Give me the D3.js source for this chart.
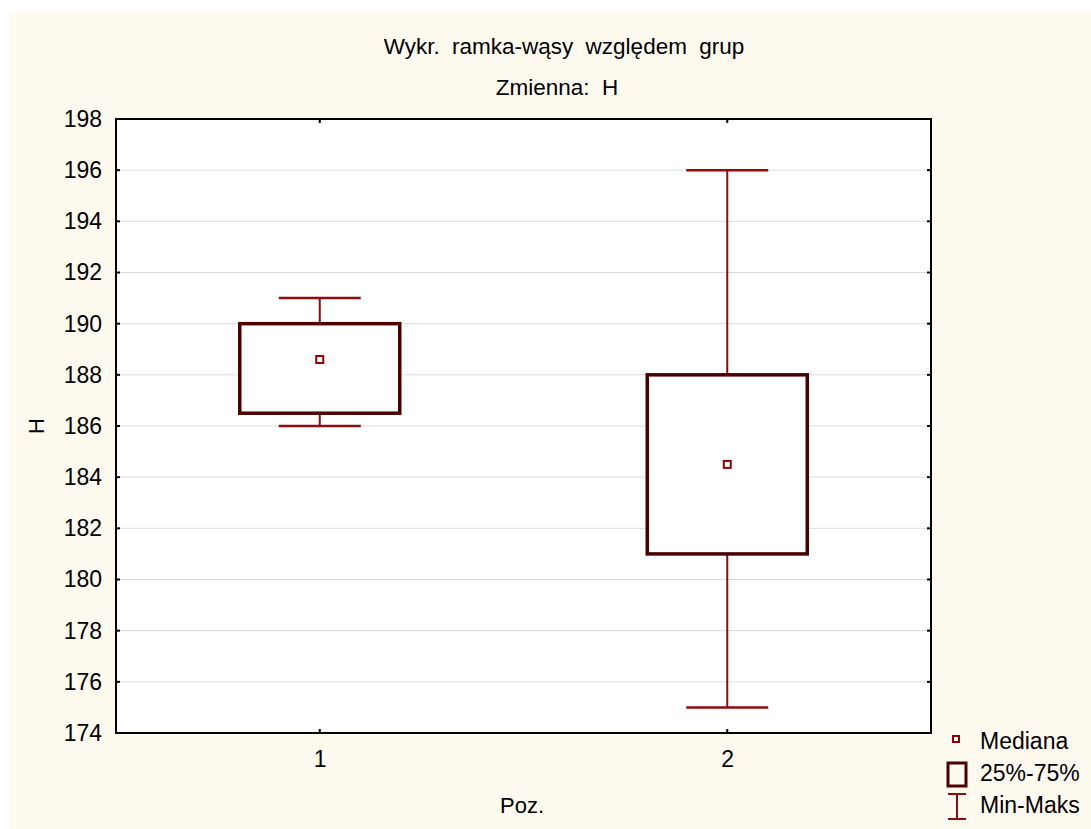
<!DOCTYPE html>
<html>
<head>
<meta charset="utf-8">
<script src="https://cdn.jsdelivr.net/npm/d3@7"></script>
<style>
  html, body { margin: 0; padding: 0; background: #ffffff; }
  svg text { font-family: Arial, "Liberation Sans", sans-serif; fill: #000; }
</style>
</head>
<body>
<svg id="chart" width="1091" height="829"></svg>
<script>
var groups = ["1", "2"],
    mins = [186, 175],
    q1s = [186.5, 181],
    medians = [188.6, 184.5],
    q3s = [190, 188],
    maxs = [191, 196],
    yTicks = [174, 176, 178, 180, 182, 184, 186, 188, 190, 192, 194, 196, 198],
    legendLabels = ["Mediana", "25%-75%", "Min-Maks"];

var osvg = d3.select('#chart'),
    width = +osvg.attr("width"),
    height = +osvg.attr("height"),
    plot = {left: 116, top: 119, right: 931, bottom: 733},
    boxColor = "#4a0000",
    whiskColor = "#8b0d0d";

// cream background
osvg.append("rect").attr("x", 9).attr("y", 12)
    .attr("width", width - 9).attr("height", height - 12)
    .attr("fill", "#fefaf0");

var x = d3.scalePoint().domain(groups).range([plot.left, plot.right]).padding(0.5),
    y = d3.scaleLinear().domain([174, 198]).range([plot.bottom, plot.top]);

var data = groups.map(function(g, i) {
    return {g: g, min: mins[i], q1: q1s[i], med: medians[i], q3: q3s[i], max: maxs[i]};
});

// plot area
osvg.append("rect").attr("x", plot.left).attr("y", plot.top)
    .attr("width", plot.right - plot.left).attr("height", plot.bottom - plot.top)
    .attr("fill", "#fff");

// grid
osvg.append("g").selectAll("line").data(yTicks.slice(1, -1)).enter().append("line")
    .attr("x1", plot.left).attr("x2", plot.right)
    .attr("y1", function(d) { return y(d); }).attr("y2", function(d) { return y(d); })
    .attr("stroke", "#dcdcdc").attr("stroke-width", 1);

// boxes
var g = osvg.append("g").selectAll("g").data(data).enter().append("g");

g.append("line")
    .attr("x1", function(d) { return x(d.g); }).attr("x2", function(d) { return x(d.g); })
    .attr("y1", function(d) { return y(d.max); }).attr("y2", function(d) { return y(d.min); })
    .attr("stroke", whiskColor).attr("stroke-width", 2);

g.selectAll(".cap").data(function(d) { return [d, d].map(function(e, k) { return {g: e.g, v: k ? e.min : e.max}; }); })
    .enter().append("line")
    .attr("x1", function(d) { return x(d.g) - 41; }).attr("x2", function(d) { return x(d.g) + 41; })
    .attr("y1", function(d) { return y(d.v); }).attr("y2", function(d) { return y(d.v); })
    .attr("stroke", whiskColor).attr("stroke-width", 2.5);

g.append("rect")
    .attr("x", function(d) { return x(d.g) - 80; })
    .attr("y", function(d) { return y(d.q3); })
    .attr("width", 160)
    .attr("height", function(d) { return y(d.q1) - y(d.q3); })
    .attr("fill", "#fff").attr("stroke", boxColor).attr("stroke-width", 3.5);

g.append("rect")
    .attr("x", function(d) { return x(d.g) - 3.5; })
    .attr("y", function(d) { return y(d.med) - 3.5; })
    .attr("width", 7).attr("height", 7)
    .attr("fill", "#fff").attr("stroke", "#8b0000").attr("stroke-width", 2);

// frame
osvg.append("rect").attr("x", plot.left).attr("y", plot.top)
    .attr("width", plot.right - plot.left).attr("height", plot.bottom - plot.top)
    .attr("fill", "none").attr("stroke", "#000").attr("stroke-width", 2);

// axes
var yAxis = d3.axisLeft(y).tickValues(yTicks).tickSize(0).tickPadding(14);
var ya = osvg.append("g").attr("transform", "translate(" + plot.left + ",0)").call(yAxis);
ya.select(".domain").remove();
ya.selectAll("text").style("font-size", "23px").attr("fill", "#000");

var xAxis = d3.axisBottom(x).tickSize(0).tickPadding(18);
var xa = osvg.append("g").attr("transform", "translate(0," + plot.bottom + ")").call(xAxis);
xa.select(".domain").remove();
xa.selectAll("text").style("font-size", "23px").attr("fill", "#000");

// inner ticks
var tk = osvg.append("g").attr("stroke", "#000").attr("stroke-width", 2);
yTicks.forEach(function(t) {
    tk.append("line").attr("x1", plot.left).attr("x2", plot.left + 4).attr("y1", y(t)).attr("y2", y(t));
    tk.append("line").attr("x1", plot.right - 4).attr("x2", plot.right).attr("y1", y(t)).attr("y2", y(t));
});
groups.forEach(function(c) {
    tk.append("line").attr("x1", x(c)).attr("x2", x(c)).attr("y1", plot.bottom).attr("y2", plot.bottom - 4);
    tk.append("line").attr("x1", x(c)).attr("x2", x(c)).attr("y1", plot.top).attr("y2", plot.top + 4);
});

// titles
osvg.append("text").attr("x", 564).attr("y", 54).attr("text-anchor", "middle")
    .style("font-size", "22.5px").style("word-spacing", "6px").text("Wykr. ramka-wąsy względem grup");
osvg.append("text").attr("x", 557).attr("y", 95).attr("text-anchor", "middle")
    .style("font-size", "22.5px").attr("xml:space", "preserve").text("Zmienna:  H");
osvg.append("text").attr("x", 522).attr("y", 813).attr("text-anchor", "middle")
    .style("font-size", "22px").text("Poz.");
osvg.append("text").attr("transform", "translate(44,426) rotate(-90)").attr("text-anchor", "middle")
    .style("font-size", "22px").text("H");

// legend
var lg = osvg.append("g");
lg.append("rect").attr("x", 953).attr("y", 736).attr("width", 6).attr("height", 6)
    .attr("fill", "#fff").attr("stroke", "#8b0000").attr("stroke-width", 2);
lg.append("rect").attr("x", 948).attr("y", 763).attr("width", 18).attr("height", 23)
    .attr("fill", "none").attr("stroke", boxColor).attr("stroke-width", 3);
lg.append("line").attr("x1", 957).attr("x2", 957).attr("y1", 794).attr("y2", 819).attr("stroke", whiskColor).attr("stroke-width", 2);
lg.append("line").attr("x1", 948).attr("x2", 966).attr("y1", 794).attr("y2", 794).attr("stroke", whiskColor).attr("stroke-width", 2);
lg.append("line").attr("x1", 948).attr("x2", 966).attr("y1", 819).attr("y2", 819).attr("stroke", whiskColor).attr("stroke-width", 2);
lg.selectAll("text").data(legendLabels).enter().append("text")
    .attr("x", 980).attr("y", function(d, i) { return 749 + i * 32; })
    .style("font-size", "23px").text(function(d) { return d; });
</script>
</body>
</html>
